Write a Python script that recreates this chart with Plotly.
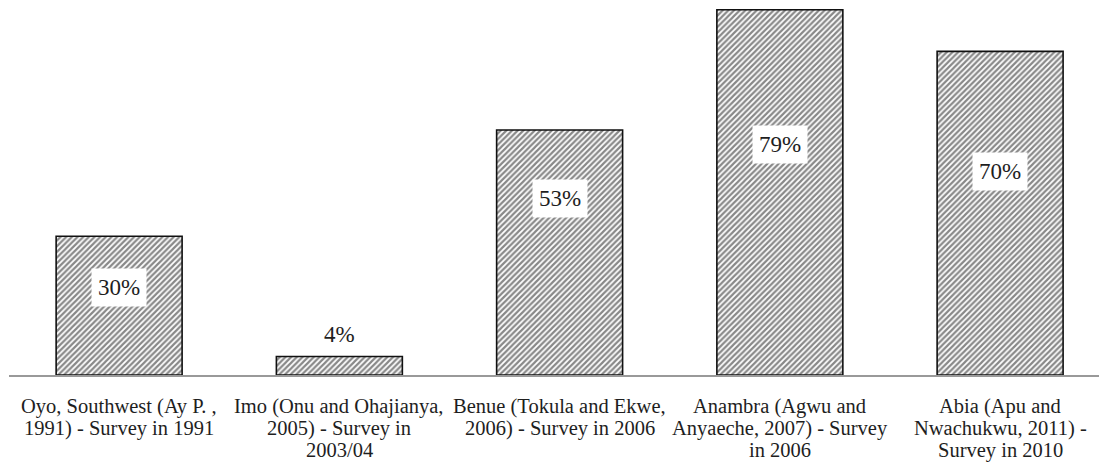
import plotly.graph_objects as go

categories = [
    "Oyo, Southwest (Ay P. ,<br>1991) - Survey in 1991",
    "Imo (Onu and Ohajianya,<br>2005) - Survey in<br>2003/04",
    "Benue (Tokula and Ekwe,<br>2006) - Survey in 2006",
    "Anambra (Agwu and<br>Anyaeche, 2007) - Survey<br>in 2006",
    "Abia (Apu and<br>Nwachukwu, 2011) -<br>Survey in 2010",
]
values = [30, 4, 53, 79, 70]
labels = ["30%", "4%", "53%", "79%", "70%"]

FONT = "Liberation Serif, Times New Roman, DejaVu Serif, serif"
TXT = "#1e1e1e"

fig = go.Figure()
fig.add_trace(go.Bar(
    x=list(range(len(categories))),
    y=values,
    width=0.572,
    marker=dict(
        color="white",
        line=dict(color="#111111", width=1.6),
        pattern=dict(shape="/", fgcolor="#111111", bgcolor="white", size=4, solidity=0.55),
    ),
    hoverinfo="skip",
))

for i, (v, lab) in enumerate(zip(values, labels)):
    if v < 10:
        fig.add_annotation(x=i, y=v, text=lab, showarrow=False, yanchor="bottom", yshift=8,
                           font=dict(family=FONT, size=23, color=TXT))
    else:
        frac = 0.63 if v != 53 else 0.72
        fig.add_annotation(x=i, y=v * frac, text=lab, showarrow=False, bgcolor="white",
                           borderpad=6, font=dict(family=FONT, size=23, color=TXT))

# category labels drawn line by line for tight line spacing
for i, cat in enumerate(categories):
    for j, line in enumerate(cat.split("<br>")):
        fig.add_annotation(x=i, xref="x", y=0, yref="paper", text=line, showarrow=False,
                           yanchor="middle", yshift=-31 - 22 * j,
                           font=dict(family=FONT, size=20.5, color=TXT))

fig.update_layout(
    width=1099, height=463,
    margin=dict(l=9, r=0, t=0, b=88),
    plot_bgcolor="white", paper_bgcolor="white",
    showlegend=False,
    font=dict(family=FONT, size=20, color=TXT),
    xaxis=dict(
        range=[-0.5, 4.449], showline=True, linecolor="#999999", linewidth=2,
        ticks="", showticklabels=False, showgrid=False, zeroline=False, fixedrange=True,
    ),
    yaxis=dict(range=[0, 81.1], visible=False, showgrid=False, zeroline=False),
)

fig.write_html("out.html")
